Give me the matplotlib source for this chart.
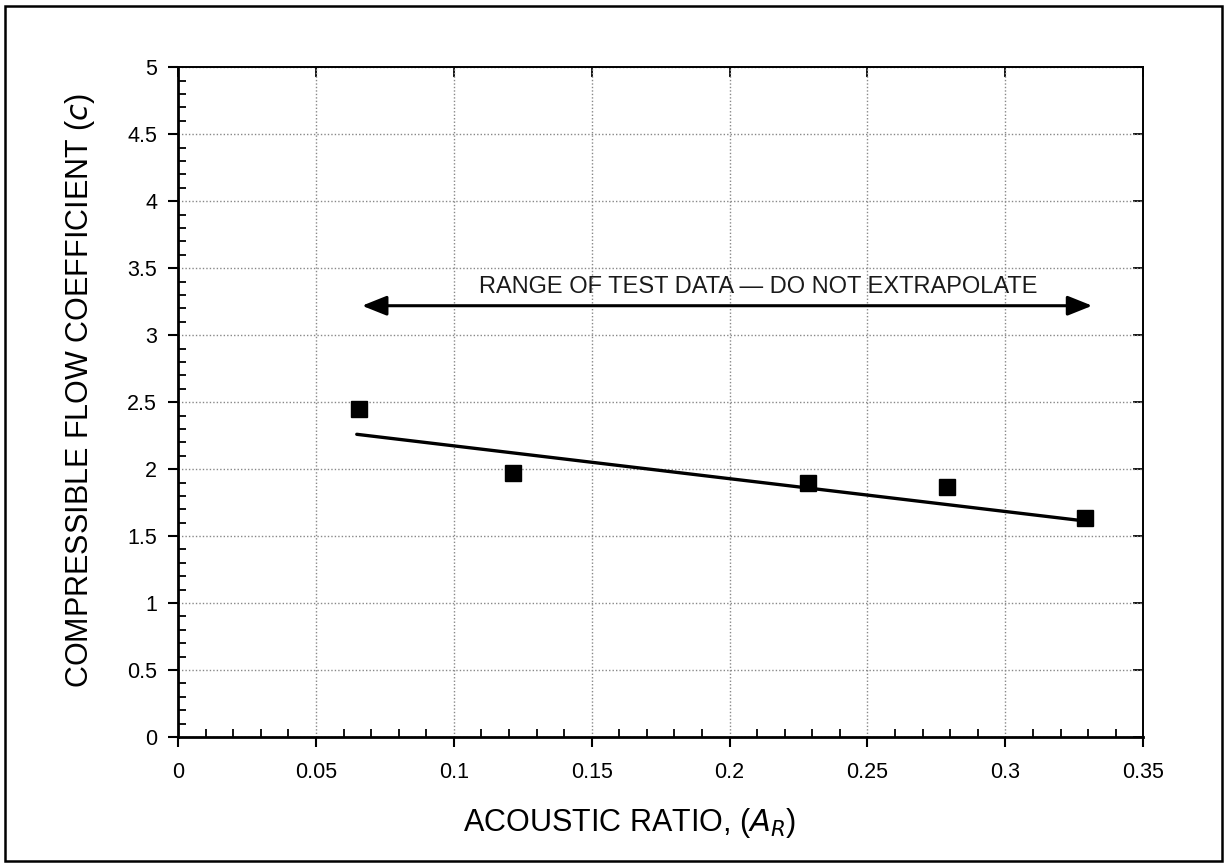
import numpy as np
import matplotlib
matplotlib.use("Agg")
import matplotlib.pyplot as plt
from matplotlib.patches import Rectangle
from matplotlib.ticker import MultipleLocator

plt.rcParams['font.family'] = ['Liberation Sans', 'DejaVu Sans']

# test points
acoustic_ratio = [0.0657, 0.1215, 0.2285, 0.2789, 0.329]
flow_coeff = [2.448, 1.97, 1.896, 1.866, 1.634]

# fitted line end points
fit_x = [0.0648, 0.330]
fit_y = [2.26, 1.61]

# range of test data arrow
range_x = [0.0667, 0.3315]
range_y = 3.22
range_text = "RANGE OF TEST DATA \u2014 DO NOT EXTRAPOLATE"

xticks = [0, 0.05, 0.1, 0.15, 0.2, 0.25, 0.3, 0.35]
xtick_labels = ['0', '0.05', '0.1', '0.15', '0.2', '0.25', '0.3', '0.35']
yticks = [0, 0.5, 1, 1.5, 2, 2.5, 3, 3.5, 4, 4.5, 5]
ytick_labels = ['0', '0.5', '1', '1.5', '2', '2.5', '3', '3.5', '4', '4.5', '5']

fig = plt.figure(figsize=(12.28, 8.63), dpi=100)
ax = fig.add_axes([0.145, 0.146, 0.786, 0.776])

# outer frame
fig.patches.append(Rectangle((5 / 1228, 2 / 863), 1217 / 1228, 855 / 863,
                             transform=fig.transFigure, fill=False,
                             edgecolor='black', linewidth=1.8))

ax.plot(fit_x, fit_y, color='black', linewidth=2.4, solid_capstyle='round', zorder=3)
ax.plot(acoustic_ratio, flow_coeff, 's', color='black', markersize=11, zorder=4)

ax.annotate('', xy=(range_x[1], range_y), xytext=(range_x[0], range_y),
            arrowprops=dict(arrowstyle='<|-|>,head_length=1.5,head_width=0.6',
                            color='black', linewidth=2.2, shrinkA=0, shrinkB=0))
ax.text(0.2104, range_y + 0.06, range_text, ha='center', va='bottom',
        fontsize=17, color='#1a1a1a')

ax.set_xlim(0, 0.35)
ax.set_ylim(0, 5)
ax.set_xticks(xticks)
ax.set_xticklabels(xtick_labels)
ax.set_yticks(yticks)
ax.set_yticklabels(ytick_labels)
ax.xaxis.set_minor_locator(MultipleLocator(0.01))
ax.yaxis.set_minor_locator(MultipleLocator(0.1))

ax.grid(True, which='major', linestyle=(0, (1, 1.5)), color='#888888', linewidth=1)
ax.tick_params(which='major', direction='out', length=7, width=1.5, labelsize=15.5)
ax.tick_params(axis='x', which='major', pad=11)
ax.tick_params(axis='y', which='major', pad=8)
ax.tick_params(which='minor', direction='in', length=6, width=1.3)
for side in ['left', 'bottom']:
    ax.spines[side].set_linewidth(2)
for side in ['top', 'right']:
    ax.spines[side].set_linewidth(1.4)

# inward major ticks on top and right
top = ax.secondary_xaxis('top')
top.set_xticks(xticks)
top.tick_params(direction='in', length=7, width=1.3, labeltop=False)
top.spines['top'].set_visible(False)
right = ax.secondary_yaxis('right')
right.set_yticks(yticks)
right.tick_params(direction='in', length=7, width=1.3, labelright=False)
right.spines['right'].set_visible(False)

ax.set_xlabel(r'ACOUSTIC RATIO, ($\mathit{A_R}$)', fontsize=22)
ax.set_ylabel(r'COMPRESSIBLE FLOW COEFFICIENT ($\mathit{c}$)', fontsize=22)
ax.xaxis.set_label_coords(0.468, -0.103)
ax.yaxis.set_label_coords(-0.084, 0.518)

plt.savefig('out.png', dpi=100)
